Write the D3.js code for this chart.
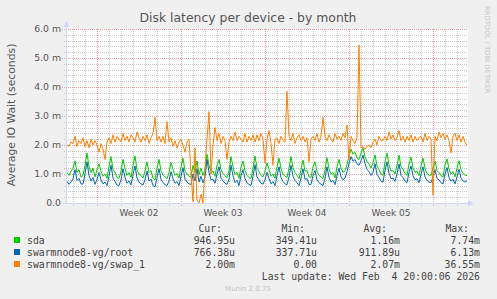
<!DOCTYPE html>
<meta charset="utf-8">
<style>
    body { margin: 0; background: #f0f0f0; }
    svg { display: block; }
    text { font-family: "DejaVu Sans", sans-serif; fill: #555; }
    .mono { font-family: "DejaVu Sans Mono", monospace; font-size: 9.8px; fill: #444; }
</style>
<body>
<svg id="chart" width="497" height="299"></svg>
<script src="https://cdn.jsdelivr.net/npm/d3@7"></script>
<script>
// 4-hourly samples, first one at Jan 2 12:00, last one at Feb 4 20:00 (values in ms)
var startTime = Date.UTC(2026, 0, 2, 12),
    endTime = Date.UTC(2026, 1, 4, 20),
    stepHours = 4;

var sda = [
    1.05, 0.95, 1.1,
    1.2, 1.45, 1.05, 1.15, 0.9, 0.95,
    1.3, 1.72, 1.25, 1.05, 1.2, 0.9,
    1.15, 1.35, 1.1, 0.92, 1.0, 0.85,
    1.25, 1.6, 1.15, 1.05, 0.88, 0.85,
    1.1, 1.5, 1.2, 0.95, 1.05, 0.88,
    1.3, 1.62, 1.15, 1.0, 0.95, 0.86,
    1.1, 1.42, 1.05, 1.12, 0.85, 0.8,
    1.2, 1.5, 1.1, 0.98, 0.9, 0.84,
    1.05, 1.4, 1.15, 0.95, 1.02, 0.86,
    1.25, 1.55, 1.1, 1.0, 0.92, 0.9,
    1.3, 1.05, 1.45, 0.98, 1.2, 0.95,
    1.15, 1.68, 1.3, 1.05, 1.1, 0.92,
    1.3, 1.5, 1.15, 1.02, 0.94, 0.88,
    1.1, 1.6, 1.25, 0.98, 1.06, 0.85,
    1.25, 1.45, 1.12, 0.95, 0.88, 0.84,
    1.2, 1.62, 1.2, 1.08, 0.95, 0.9,
    1.1, 1.38, 1.15, 0.92, 1.0, 0.85,
    1.25, 1.55, 1.18, 1.0, 0.92, 0.88,
    1.2, 1.6, 1.22, 1.05, 0.96, 0.84,
    1.15, 1.48, 1.1, 1.12, 0.9, 0.88,
    1.25, 1.42, 1.08, 0.95, 0.9, 0.84,
    1.15, 1.56, 1.18, 1.0, 1.05, 0.86,
    1.25, 1.5, 1.2, 1.05, 1.12, 1.32,
    1.62, 1.86, 1.68, 1.75, 1.55, 1.5,
    1.72, 1.9, 1.6, 1.42, 1.35, 1.2,
    1.38, 1.66, 1.28, 1.15, 1.0, 0.96,
    1.42, 1.72, 1.32, 1.1, 1.12, 1.0,
    1.3, 1.65, 1.25, 1.15, 1.02, 0.95,
    1.35, 1.58, 1.22, 1.05, 1.1, 0.94,
    1.28, 1.55, 1.2, 1.02, 0.96, 0.95,
    1.2, 1.45, 1.12, 1.05, 0.94, 0.9,
    1.3, 1.52, 1.18, 1.0, 1.08, 0.9,
    1.2, 1.46, 1.15, 1.02, 0.96, 0.95
];

var root = [
    0.75, 0.64, 0.72,
    0.85, 1.15, 0.78, 0.85, 0.65, 0.66,
    1.0, 1.42, 0.95, 0.76, 0.88, 0.64,
    0.82, 1.05, 0.8, 0.66, 0.72, 0.6,
    0.92, 1.3, 0.86, 0.74, 0.62, 0.6,
    0.8, 1.18, 0.88, 0.68, 0.76, 0.62,
    0.98, 1.28, 0.86, 0.72, 0.66, 0.62,
    0.8, 1.1, 0.76, 0.82, 0.6, 0.55,
    0.88, 1.18, 0.82, 0.7, 0.64, 0.6,
    0.76, 1.08, 0.84, 0.68, 0.74, 0.6,
    0.92, 1.22, 0.82, 0.72, 0.66, 0.64,
    1.0, 0.76, 1.18, 0.72, 0.92, 0.7,
    0.9, 1.5, 1.05, 0.8, 0.82, 0.68,
    1.0, 1.25, 0.86, 0.76, 0.68, 0.64,
    0.82, 1.3, 0.94, 0.7, 0.78, 0.6,
    0.95, 1.15, 0.84, 0.7, 0.64, 0.6,
    0.92, 1.32, 0.9, 0.8, 0.68, 0.65,
    0.8, 1.06, 0.84, 0.66, 0.74, 0.6,
    0.94, 1.25, 0.88, 0.74, 0.66, 0.63,
    0.9, 1.3, 0.92, 0.78, 0.7, 0.6,
    0.86, 1.18, 0.82, 0.84, 0.64, 0.64,
    0.95, 1.12, 0.8, 0.7, 0.65, 0.6,
    0.86, 1.25, 0.88, 0.72, 0.78, 0.63,
    0.95, 1.2, 0.9, 0.8, 0.86, 1.08,
    1.36, 1.6, 1.44, 1.5, 1.35, 1.3,
    1.46, 1.65, 1.36, 1.16, 1.08, 0.95,
    1.06, 1.36, 0.98, 0.88, 0.75, 0.72,
    1.12, 1.42, 1.02, 0.84, 0.86, 0.75,
    1.0, 1.35, 0.95, 0.88, 0.76, 0.7,
    1.05, 1.28, 0.94, 0.8, 0.84, 0.7,
    0.98, 1.25, 0.9, 0.78, 0.72, 0.7,
    0.9, 1.15, 0.84, 0.8, 0.7, 0.66,
    1.0, 1.22, 0.88, 0.75, 0.82, 0.66,
    0.9, 1.16, 0.86, 0.76, 0.72, 0.77
];

var swap = [
    2.0, 1.95, 2.1,
    2.05, 2.3, 1.95, 2.15, 2.05, 2.25,
    1.95, 2.15, 1.9, 2.2, 2.0, 2.15,
    2.0, 1.75, 2.05, 1.85, 1.5, 2.1,
    2.25, 2.05, 2.35, 2.1, 2.3, 2.2,
    2.1, 2.4, 2.15, 2.3, 2.1, 2.35,
    2.25, 2.1, 2.45, 2.25, 2.1, 2.3,
    2.15, 2.35, 2.05, 2.25, 2.4, 2.95,
    2.15, 2.3, 2.1, 2.3, 2.05, 2.8,
    2.1, 2.25, 1.95, 2.15, 1.9, 2.1,
    2.2, 2.0, 1.75, 2.1, 2.2, 1.0,
    0.05, 1.9, 0.1, 0.0, 0.3, 0.0,
    1.2, 2.2, 3.15, 1.0, 2.0, 2.6,
    2.15, 2.4, 2.05, 2.3, 2.15, 1.5,
    2.1, 2.3, 2.15, 2.45, 2.15, 2.3,
    2.2, 2.1, 2.4, 2.1, 2.3, 2.15,
    2.35, 2.1, 2.35, 2.15, 2.4, 2.2,
    1.38, 2.2, 2.5, 2.05, 1.3, 2.2,
    2.25, 2.05, 2.3, 2.15, 2.1, 3.85,
    2.3, 2.15, 2.4, 2.05, 2.25, 2.35,
    2.15, 2.3, 2.1, 2.25, 1.42, 2.2,
    2.3, 2.15, 2.4, 2.1, 2.3, 2.95,
    2.3, 2.15, 2.35, 2.2, 2.1, 2.4,
    2.2, 2.3, 2.15, 2.4, 2.25, 2.69,
    1.48, 2.3, 2.15, 2.05, 2.25, 5.45,
    1.9, 1.95, 1.85, 1.95, 2.0, 1.9,
    2.1, 2.2, 2.0, 2.3, 2.15, 2.15,
    2.3, 2.15, 2.45, 2.2, 2.35, 2.15,
    2.25, 2.5, 2.15, 2.3, 2.1, 2.3,
    2.15, 2.35, 2.1, 2.3, 2.15, 2.25,
    2.3, 2.1, 2.4, 2.15, 2.3, 2.2,
    0.27, 2.3, 2.15, 2.45, 2.25, 2.4,
    2.2, 2.35, 2.15, 1.72, 2.3, 2.4,
    2.15, 2.35, 2.1, 2.3, 2.1, 2.0
];

var names = ["sda", "swarmnode8-vg/root", "swarmnode8-vg/swap_1"],
    colors = ["#00cc00", "#0066b3", "#ff8000"],
    curVals = ["946.95u", "766.38u", "2.00m"],
    minVals = ["349.41u", "337.71u", "0.00"],
    avgVals = ["1.16m", "911.89u", "2.07m"],
    maxVals = ["7.74m", "6.13m", "36.55m"],
    yTicks = [0, 1, 2, 3, 4, 5, 6];

var svg = d3.select("#chart");
var x = d3.scaleUtc().domain([startTime, endTime]).range([67, 467]),
    y = d3.scaleLinear().domain([0, 6]).range([203, 29]);

svg.append("rect").attr("width", 497).attr("height", 299).attr("fill", "#f0f0f0");
svg.append("rect").attr("x", 66).attr("y", 29).attr("width", 402).attr("height", 174).attr("fill", "#fff");

// grid
var grid = svg.append("g").attr("shape-rendering", "crispEdges");
var minorY = d3.range(0, 6.01, 0.2).filter(function (v) { return Math.abs(v - Math.round(v)) > 0.01; });
grid.selectAll(".hmin").data(minorY).enter().append("line")
    .attr("x1", 64).attr("x2", 468)
    .attr("y1", function (d) { return Math.round(y(d)) + 0.5; })
    .attr("y2", function (d) { return Math.round(y(d)) + 0.5; })
    .attr("stroke", "#c8c8c8").attr("stroke-dasharray", "1,1");
var days = d3.utcDay.range(startTime, endTime).filter(function (d) { return d.getUTCDay() !== 1; });
grid.selectAll(".vmin").data(days).enter().append("line")
    .attr("x1", function (d) { return Math.round(x(d)) + 0.5; })
    .attr("x2", function (d) { return Math.round(x(d)) + 0.5; })
    .attr("y1", 29).attr("y2", 206)
    .attr("stroke", "#c8c8c8").attr("stroke-dasharray", "1,1");
grid.selectAll(".hmaj").data(yTicks.slice(1)).enter().append("line")
    .attr("x1", 62).attr("x2", 468)
    .attr("y1", function (d) { return Math.round(y(d)) + 0.5; })
    .attr("y2", function (d) { return Math.round(y(d)) + 0.5; })
    .attr("stroke", "#e3a0a0").attr("stroke-dasharray", "1,1");
var weeks = d3.utcMonday.range(startTime, endTime);
grid.selectAll(".vmaj").data(weeks).enter().append("line")
    .attr("x1", function (d) { return Math.round(x(d)) + 0.5; })
    .attr("x2", function (d) { return Math.round(x(d)) + 0.5; })
    .attr("y1", 29).attr("y2", 207)
    .attr("stroke", "#e3a0a0").attr("stroke-dasharray", "1,1");

// series
var line = d3.line()
    .x(function (d, i) { return x(startTime + i * stepHours * 3600000); })
    .y(function (d) { return y(d); });
[sda, root, swap].forEach(function (s, k) {
    svg.append("path").datum(s).attr("d", line)
        .attr("fill", "none").attr("stroke", colors[k]).attr("stroke-width", 1)
        .attr("stroke-linejoin", "round");
});

// axes
var axis = svg.append("g").attr("shape-rendering", "crispEdges");
axis.append("line").attr("x1", 66.5).attr("x2", 66.5).attr("y1", 24).attr("y2", 204).attr("stroke", "#cfd6f8");
axis.append("line").attr("x1", 63).attr("x2", 469).attr("y1", 203.5).attr("y2", 203.5).attr("stroke", "#cfd6f8");
svg.append("path").attr("d", "M63.5,27 L66.5,21 L69.5,27 Z").attr("fill", "#cfd6f8");
svg.append("path").attr("d", "M468,200.5 L474,203.5 L468,206.5 Z").attr("fill", "#cfd6f8");

svg.selectAll(".ylab").data(yTicks).enter().append("text")
    .attr("x", 61).attr("y", function (d) { return y(d) + 3.3; })
    .attr("text-anchor", "end").attr("font-size", "9.3px")
    .text(function (d) { return d === 0 ? "0.0" : d3.format(".1f")(d) + " m"; });

var labelWeeks = d3.utcMonday.range(startTime - 7 * 864e5, endTime)
    .map(function (d) { return new Date(+d + 3.5 * 864e5); })
    .filter(function (d) { return +d > startTime && +d < endTime; });
svg.selectAll(".xlab").data(labelWeeks).enter().append("text")
    .attr("x", function (d) { return x(d); }).attr("y", 216)
    .attr("text-anchor", "middle").attr("font-size", "9px")
    .text(function (d) { return d3.utcFormat("Week %V")(new Date(+d - 3.5 * 864e5)); });

// titles
svg.append("text").attr("x", 248).attr("y", 22).attr("text-anchor", "middle")
    .attr("font-size", "12.4px").text("Disk latency per device - by month");
svg.append("text").attr("transform", "translate(15,115) rotate(-90)").attr("text-anchor", "middle")
    .attr("font-size", "10.8px").text("Average IO Wait (seconds)");
svg.append("text").attr("transform", "translate(485,6) rotate(90)")
    .attr("font-size", "6.8px").style("fill", "#c4c4c4").text("RRDTOOL / TOBI OETIKER");

// legend
var heads = [["Cur:", 222], ["Min:", 305], ["Avg:", 387], ["Max:", 469]];
heads.forEach(function (h) {
    svg.append("text").attr("class", "mono").attr("x", h[1]).attr("y", 231.5)
        .attr("text-anchor", "end").text(h[0]);
});
var cols = [[curVals, 235], [minVals, 317], [avgVals, 400], [maxVals, 480]];
names.forEach(function (n, i) {
    var yy = 243.5 + i * 12;
    svg.append("rect").attr("x", 14).attr("y", yy - 6.5).attr("width", 6).attr("height", 6).attr("fill", colors[i]);
    svg.append("text").attr("class", "mono").attr("x", 27).attr("y", yy).text(n);
    cols.forEach(function (c) {
        svg.append("text").attr("class", "mono").attr("x", c[1]).attr("y", yy)
            .attr("text-anchor", "end").text(c[0][i]);
    });
});
svg.append("text").attr("class", "mono").attr("x", 480).attr("y", 279.5).attr("text-anchor", "end")
    .style("white-space", "pre").text("Last update: Wed Feb  4 20:00:06 2026");
svg.append("text").attr("x", 248).attr("y", 291).attr("text-anchor", "middle")
    .attr("font-size", "7px").style("fill", "#c4c4c4").text("Munin 2.0.75");
</script>
</body>
